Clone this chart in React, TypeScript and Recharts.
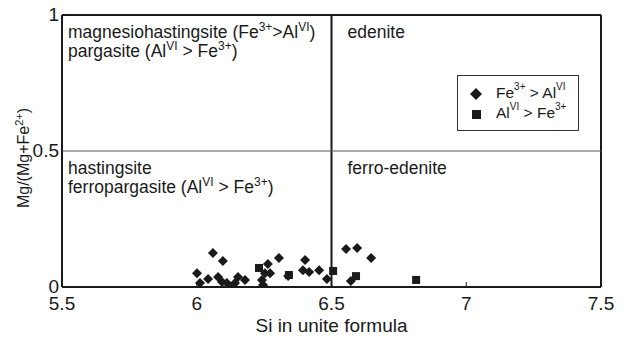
import React from "react";
import { ScatterChart, Scatter, XAxis, YAxis, ReferenceLine, ReferenceArea } from "recharts";

// Fe3+ > AlVI (diamonds)
const feSi = [
  6.06, 6.097, 6.305, 6.264, 6.402, 6.394, 6.417, 6.454, 6.483, 6.554, 6.595, 6.647, 6.001, 6.012,
  6.042, 6.079, 6.094, 6.112, 6.135, 6.142, 6.153, 6.179, 6.242, 6.246, 6.253, 6.272, 6.339, 6.572,
];
const feMg = [
  0.125, 0.096, 0.107, 0.085, 0.099, 0.062, 0.055, 0.062, 0.029, 0.14, 0.143, 0.107, 0.051, 0.015,
  0.029, 0.037, 0.018, 0.015, 0.002, 0.015, 0.037, 0.026, 0.026, 0.007, 0.051, 0.051, 0.04, 0.022,
];

// AlVI > Fe3+ (squares)
const alSi = [6.231, 6.342, 6.506, 6.591, 6.814];
const alMg = [0.07, 0.044, 0.059, 0.04, 0.026];

const xTicks = [5.5, 6, 6.5, 7, 7.5];
const yTicks = [0, 0.5, 1];

const feData = feSi.map((x, i) => ({ x, y: feMg[i] }));
const alData = alSi.map((x, i) => ({ x, y: alMg[i] }));

const FONT = '"Liberation Sans", Arial, sans-serif';
const INK = "#1a1a1a";

// text segments: plain strings, or ["sup", text]
type Seg = string | [string, string];

const renderSegs = (segs: Seg[], supSize: number, rise: number) => {
  let raised = false;
  return segs.map((s, i) => {
    if (typeof s === "string") {
      const dy = raised ? rise : 0;
      raised = false;
      return (
        <tspan key={i} dy={dy}>
          {s}
        </tspan>
      );
    }
    const dy = raised ? 0 : -rise;
    raised = true;
    return (
      <tspan key={i} dy={dy} fontSize={supSize}>
        {s[1]}
      </tspan>
    );
  });
};

const Diamond = (props: any) => {
  const { cx, cy } = props;
  const r = 5;
  return <polygon points={`${cx},${cy - r} ${cx + r},${cy} ${cx},${cy + r} ${cx - r},${cy}`} fill={INK} />;
};

const Square = (props: any) => {
  const { cx, cy } = props;
  return <rect x={cx - 4} y={cy - 4} width={8} height={8} fill={INK} />;
};

const regionLabel = (dx: number, lines: Seg[][]) => (props: any) => {
  const { viewBox } = props;
  return (
    <g>
      {lines.map((l, i) => (
        <text
          key={i}
          x={viewBox.x + dx}
          y={viewBox.y + 23 + i * 19}
          fontFamily={FONT}
          fontSize={17.5}
          fill={INK}
        >
          {renderSegs(l, 12, 7)}
        </text>
      ))}
    </g>
  );
};

const XTick = (props: any) => {
  const { x, y, payload } = props;
  return (
    <g>
      <line x1={x} x2={x} y1={y} y2={y - 5} stroke={INK} strokeWidth={1} />
      <text x={x} y={y + 23} textAnchor="middle" fontFamily={FONT} fontSize={19} fill={INK}>
        {payload.value}
      </text>
    </g>
  );
};

const YTick = (props: any) => {
  const { x, y, payload } = props;
  return (
    <text x={x - 3} y={y + 6} textAnchor="end" fontFamily={FONT} fontSize={19} fill={INK}>
      {payload.value}
    </text>
  );
};

const supStyle = { fontSize: 10, verticalAlign: "top", lineHeight: "10px", position: "relative" as const, top: -2 };

const LegendBox = () => (
  <div
    style={{
      position: "absolute",
      left: 457,
      top: 75,
      width: 120,
      height: 54,
      border: "1px solid #333",
      background: "#fff",
      fontFamily: FONT,
      fontSize: 15.5,
      color: INK,
    }}
  >
    <svg width={30} height={54} style={{ position: "absolute", left: 0, top: 0 }}>
      <polygon points="18,12 24,18 18,24 12,18" fill={INK} />
      <rect x={14} y={34} width={9} height={9} fill={INK} />
    </svg>
    <div style={{ position: "absolute", left: 38, top: 8, whiteSpace: "nowrap", lineHeight: "18px" }}>
      Fe<span style={supStyle}>3+</span> &gt; Al<span style={supStyle}>VI</span>
    </div>
    <div style={{ position: "absolute", left: 38, top: 28, whiteSpace: "nowrap", lineHeight: "18px" }}>
      Al<span style={supStyle}>VI</span> &gt; Fe<span style={supStyle}>3+</span>
    </div>
  </div>
);

export default function App() {
  return (
    <div style={{ position: "absolute", left: 0, top: 0, width: 622, height: 338, background: "#fff" }}>
      <ScatterChart width={622} height={338} margin={{ top: 15, right: 21, bottom: 6, left: 0 }}>
        <XAxis
          type="number"
          dataKey="x"
          domain={[5.5, 7.5]}
          ticks={xTicks}
          allowDataOverflow
          height={45}
          stroke={INK}
          strokeWidth={2}
          tickLine={false}
          tickSize={0}
          tickMargin={0}
          tick={<XTick />}
          label={(p: any) => (
            <text
              x={p.viewBox.x + p.viewBox.width / 2}
              y={p.viewBox.y + 45}
              textAnchor="middle"
              fontFamily={FONT}
              fontSize={19}
              fill={INK}
            >
              Si in unite formula
            </text>
          )}
        />
        <YAxis
          type="number"
          dataKey="y"
          domain={[0, 1]}
          ticks={yTicks}
          allowDataOverflow
          width={62}
          stroke={INK}
          strokeWidth={2}
          tickLine={false}
          tickSize={0}
          tickMargin={0}
          tick={<YTick />}
          label={(p: any) => {
            const cx = 29;
            const cy = p.viewBox.y + p.viewBox.height / 2 + 7;
            return (
              <text
                x={cx}
                y={cy}
                transform={`rotate(-90 ${cx} ${cy})`}
                textAnchor="middle"
                fontFamily={FONT}
                fontSize={16}
                fill={INK}
              >
                {renderSegs(["Mg/(Mg+Fe", ["sup", "2+"], ")"], 11, 6)}
              </text>
            );
          }}
        />
        <ReferenceLine y={1} stroke={INK} strokeWidth={2} />
        <ReferenceLine x={7.5} stroke={INK} strokeWidth={2} />
        <ReferenceLine x={6.5} stroke={INK} strokeWidth={2} />
        <ReferenceLine y={0.5} stroke="#555" strokeWidth={1} />
        <ReferenceArea
          x1={5.5}
          x2={6.5}
          y1={0.5}
          y2={1}
          fill="none"
          stroke="none"
          label={regionLabel(6, [
            ["magnesiohastingsite (Fe", ["sup", "3+"], ">Al", ["sup", "VI"], ")"],
            ["pargasite (Al", ["sup", "VI"], " > Fe", ["sup", "3+"], ")"],
          ])}
        />
        <ReferenceArea
          x1={6.5}
          x2={7.5}
          y1={0.5}
          y2={1}
          fill="none"
          stroke="none"
          label={regionLabel(16, [["edenite"]])}
        />
        <ReferenceArea
          x1={5.5}
          x2={6.5}
          y1={0}
          y2={0.5}
          fill="none"
          stroke="none"
          label={regionLabel(6, [
            ["hastingsite"],
            ["ferropargasite (Al", ["sup", "VI"], " > Fe", ["sup", "3+"], ")"],
          ])}
        />
        <ReferenceArea
          x1={6.5}
          x2={7.5}
          y1={0}
          y2={0.5}
          fill="none"
          stroke="none"
          label={regionLabel(16, [["ferro-edenite"]])}
        />
        <Scatter name="Fe3+ > AlVI" data={feData} shape={<Diamond />} isAnimationActive={false} />
        <Scatter name="AlVI > Fe3+" data={alData} shape={<Square />} isAnimationActive={false} />
      </ScatterChart>
      <LegendBox />
    </div>
  );
}
